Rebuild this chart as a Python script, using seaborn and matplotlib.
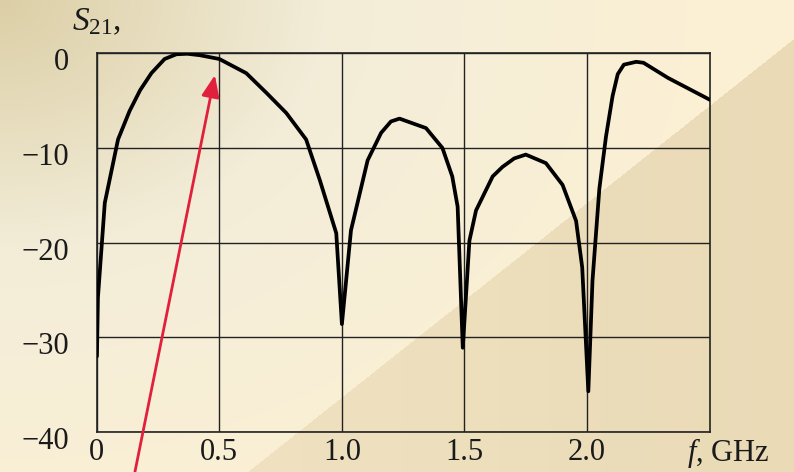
import numpy as np
import pandas as pd
import matplotlib
matplotlib.use("Agg")
import matplotlib.pyplot as plt
import matplotlib.transforms as mtransforms
import seaborn as sns

# ---- data ----
freq_ghz = [0.001, 0.005, 0.033, 0.087, 0.134, 0.177, 0.223, 0.277, 0.325, 0.37, 0.42,
            0.5, 0.61, 0.693, 0.773, 0.854, 0.91, 0.977, 1.0, 1.037, 1.105,
            1.16, 1.2, 1.235, 1.343, 1.41, 1.45, 1.472, 1.493, 1.52, 1.547,
            1.615, 1.655, 1.703, 1.75, 1.832, 1.9, 1.955, 1.98, 2.005, 2.022,
            2.05, 2.077, 2.104, 2.125, 2.15, 2.2, 2.23, 2.33, 2.5]
s21_db = [-32.0, -25.8, -15.8, -9.1, -6.1, -3.9, -2.1, -0.6, -0.1, -0.05, -0.2,
          -0.6, -2.1, -4.2, -6.3, -9.1, -13.4, -19.0, -28.6, -18.7, -11.3,
          -8.4, -7.2, -6.9, -7.9, -10.0, -13.0, -16.2, -31.1, -19.8, -16.6,
          -13.0, -12.0, -11.1, -10.7, -11.6, -13.9, -17.7, -22.6, -35.7, -24.0,
          -14.3, -8.8, -4.5, -2.2, -1.2, -0.9, -1.0, -2.6, -4.9]
x_ticks = [0, 0.5, 1.0, 1.5, 2.0]
x_tick_labels = ["0", "0.5", "1.0", "1.5", "2.0"]
y_ticks = [0, -10, -20, -30, -40]
y_tick_labels = ["0", "\u221210", "\u221220", "\u221230", "\u221240"]
arrow_tip = (0.482, -2.3)
arrow_tail = (0.156, -44.2)

df = pd.DataFrame({"f": freq_ghz, "S21": s21_db})

sns.set_theme(style="white")
plt.rcParams["font.family"] = ["Liberation Serif", "DejaVu Serif"]
plt.rcParams["mathtext.fontset"] = "custom"
plt.rcParams["mathtext.rm"] = "Liberation Serif"
plt.rcParams["mathtext.it"] = "Liberation Serif:italic"

W, H = 794, 472
fig = plt.figure(figsize=(W / 100, H / 100), dpi=100)

# ---- background ----
bg = fig.add_axes([0, 0, 1, 1], zorder=-10)
yy, xx = np.mgrid[0:H, 0:W].astype(float)
c_tl = np.array([220, 207, 166]) / 255
c_mid = np.array([243, 237, 217]) / 255
c_far = np.array([252, 240, 212]) / 255
c_tri = np.array([239, 225, 192]) / 255
c_tri2 = np.array([234, 218, 182]) / 255
r = np.sqrt(xx ** 2 + (yy * 1.3) ** 2)
t1 = np.clip(r / 330, 0, 1)[..., None]
img = c_tl * (1 - t1) + c_mid * t1
t2 = np.clip((r - 330) / 400, 0, 1)[..., None]
img = img * (1 - t2) + c_far * t2
tri = (yy > 472 - 0.793 * (xx - 247))[..., None]
shade = np.clip((xx - 300) / 500, 0, 1)[..., None]
tri_col = c_tri * (1 - shade) + c_tri2 * shade
img = np.where(tri, tri_col, img)
bg.imshow(img, aspect="auto", extent=[0, W, H, 0], interpolation="bilinear")
bg.axis("off")

# ---- main axes ----
ax = fig.add_axes([96.7 / W, 1 - 432 / H, (709.7 - 96.7) / W, (432 - 53.3) / H])
ax.set_facecolor("none")
sns.lineplot(data=df, x="f", y="S21", ax=ax, color="black", linewidth=2.7,
             sort=False, estimator=None, zorder=3)

ax.set_xlim(0, 2.5)
ax.set_ylim(-40, 0)
ax.set_xticks(x_ticks)
ax.set_xticklabels(x_tick_labels)
ax.set_yticks(y_ticks)
ax.set_yticklabels(y_tick_labels)
ax.tick_params(axis="both", length=0, labelsize=22, colors="#1a1a1a")
ax.tick_params(axis="x", pad=4)
ax.tick_params(axis="y", pad=20)
ax.set_xlabel("")
ax.set_ylabel("")
ax.grid(True, color="#222222", linewidth=1.0)
for sp in ax.spines.values():
    sp.set_visible(True)
    sp.set_color("#222222")
    sp.set_linewidth(1.2)

offset = mtransforms.ScaledTranslation(0, -6 / 100, fig.dpi_scale_trans)
for lab in ax.get_yticklabels():
    lab.set_transform(lab.get_transform() + offset)

# axis labels
fig.text(728 / W, 1 - 453 / H, r"$f$, GHz", fontsize=22, ha="center", va="center",
         color="#1a1a1a")
fig.text(72 / W, 1 - 22 / H, r"$S_{21}$,", fontsize=24, ha="left", va="center",
         color="#1a1a1a")

# red arrow
ax.annotate("", xy=arrow_tip, xytext=arrow_tail, xycoords="data",
            textcoords="data", annotation_clip=False,
            arrowprops=dict(arrowstyle="-|>,head_length=1.1,head_width=0.45",
                            color="#e0203c", lw=2.0, shrinkA=0, shrinkB=0),
            zorder=5)

fig.savefig("out.png", dpi=100)
